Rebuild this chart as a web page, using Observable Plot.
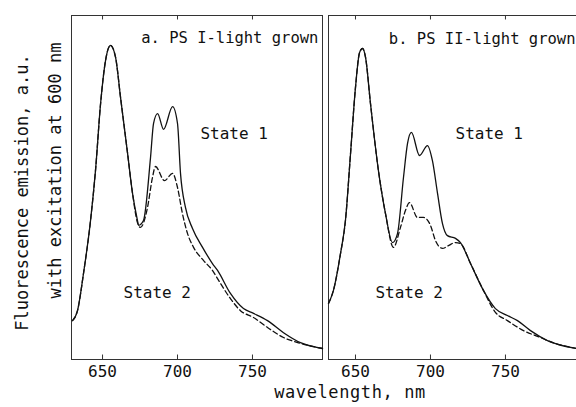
<!DOCTYPE html>
<html><head><meta charset="utf-8">
<script src="https://cdn.jsdelivr.net/npm/d3@7"></script>
<script src="https://cdn.jsdelivr.net/npm/@observablehq/plot@0.6"></script>
<style>
body{margin:0;background:#fff;}
#wrap{position:relative;width:576px;height:407px;overflow:hidden;font-family:"DejaVu Sans Mono",monospace;color:#111;}
#wrap svg{position:absolute;top:0;}
#xlab{position:absolute;top:382px;left:0;width:700px;text-align:center;font-size:17px;letter-spacing:0.6px;line-height:20px;}
</style></head><body><div id="wrap"><div id="xlab">wavelength, nm</div></div>
<script>
// Panel a: PS I-light grown
const waveA1 = [630,633.3,637.3,642,645.3,648.7,652,655.3,658.7,662,666.7,670,673.3,674,677.3,682,684,686.7,690.7,696.7,700,702,705.3,710,716.7,723.3,726.7,735.3,744,750.7,760,770.7,782,796.7];
const fluorA1 = [11.3,14.2,25,40.4,54.9,74.4,86.9,91.3,87.8,76.2,59.9,48.3,40.4,39,40.4,58.7,68.6,71.5,66.9,73.5,68.6,54.1,44.2,38.1,32.6,27.9,25.9,19.2,14.8,13.4,11.3,7.8,4.9,3.2];
const waveA2 = [630,633.3,637.3,642,645.3,648.7,652,655.3,658.7,662,666.7,670,673.3,675.3,680,683.3,685.3,691.3,696.7,700,703.3,706.7,710.7,717.3,723.3,726.7,735.3,742,750.7,760,770.7,782,796.7];
const fluorA2 = [11.3,14.2,25,40.4,54.9,74.4,86.9,91.3,87.8,76.2,59.9,48.3,39.8,38.4,44.2,52.9,56.1,52,54.1,50,42.4,36.6,32.6,28.8,25.9,23.5,17.7,14.2,12.2,9.3,6.4,4.7,3.2];
// Panel b: PS II-light grown
const waveB1 = [632,635.3,640,643.3,646.7,650,652.7,654.7,656.7,660,665.3,670,674.7,678,682,684.7,687.3,692.7,698,701.3,704.7,708,711.3,716.7,720,726.7,735.3,743.3,751.3,758,766.7,778,797.3];
const fluorB1 = [16.3,20.1,30.8,40.4,59.9,79.1,89.2,90.4,87.8,74.4,54.9,42.4,34,36.6,52.9,62.8,66,59.3,62.2,57.8,48.3,39.5,36,35.2,34,27.9,20.1,14.8,12.8,11.3,8.4,5.5,3.2];
const waveB2 = [632,635.3,640,643.3,646.7,650,652.7,654.7,656.7,660,665.3,670,675.3,680,683.3,686,691.3,695.3,700,703.3,708,712,716.7,720,726.7,735.3,743.3,751.3,762,773.3,778,797.3];
const fluorB2 = [16.3,20.1,30.8,40.4,59.9,79.1,89.2,90.4,87.8,74.4,54.9,42.4,32.6,38.4,43.3,45.6,41.3,41.3,39,34.6,32.3,33.1,34,33.7,27.9,20.1,13.7,11.3,8.4,6.4,5.5,3.2];

const tickWaves = [650, 700, 750];
const titles = ["a. PS I-light grown", "b. PS II-light grown"];
const titleWave = [794, 796.7];
const titleLevel = [91.9, 91.6];
const stateLabels = ["State 1", "State 2"];
const stateWaveA = [715.3, 664];
const stateWaveB = [716.7, 663.3];
const stateLevel = [64.2, 17.8];
const yLabelLines = ["Fluorescence emission, a.u.", "with excitation at 600 nm"];

const font = `"DejaVu Sans Mono",monospace`;
const ink = "#111";

function series(w, f) { return w.map((x, i) => ({x, y: f[i]})); }

function panel({s1, s2, domain, width, ml, mr, title, tWave, tLevel, stWaves, extra = []}) {
  return Plot.plot({
    width, height: 407,
    marginLeft: ml, marginRight: mr, marginTop: 15, marginBottom: 48,
    x: {domain, axis: null},
    y: {domain: [0, 100], axis: null},
    style: {fontFamily: font, background: "transparent", color: ink},
    marks: [
      Plot.frame({stroke: "#333", strokeWidth: 1}),
      Plot.ruleX(tickWaves, {x: d => d, y1: () => 0, y2: () => 1.3, stroke: "#333"}),
      Plot.ruleX(tickWaves, {x: d => d, y1: () => 98.7, y2: () => 100, stroke: "#333"}),
      Plot.axisX(tickWaves, {anchor: "bottom", tickSize: 0, tickPadding: 6, fontSize: 16, label: null, tickFormat: d => String(d)}),
      Plot.line(s2, {x: "x", y: "y", curve: "monotone-x", stroke: ink, strokeWidth: 1.3, strokeDasharray: "5,3"}),
      Plot.line(s1, {x: "x", y: "y", curve: "monotone-x", stroke: ink, strokeWidth: 1.3}),
      Plot.text([title], {x: () => tWave, y: () => tLevel, text: d => d, textAnchor: "end", lineAnchor: "bottom", fontSize: 15.5, fill: ink}),
      Plot.text(stateLabels, {x: (d, i) => stWaves[i], y: (d, i) => stateLevel[i], text: d => d, textAnchor: "start", lineAnchor: "bottom", fontSize: 16, fill: ink}),
      ...extra
    ]
  });
}

const pa = panel({
  s1: series(waveA1, fluorA1), s2: series(waveA2, fluorA2),
  domain: [629.3, 796.7], width: 330, ml: 71, mr: 8,
  title: titles[0], tWave: titleWave[0], tLevel: titleLevel[0], stWaves: stateWaveA,
  extra: [
    Plot.text([yLabelLines[0]], {frameAnchor: "left", textAnchor: "middle", rotate: -90, dx: -49, dy: 5, text: d => d, fontSize: 17, fill: ink}),
    Plot.text([yLabelLines[1]], {frameAnchor: "left", textAnchor: "middle", rotate: -90, dx: -16, dy: -17, text: d => d, fontSize: 17, fill: ink})
  ]
});
const pb = panel({
  s1: series(waveB1, fluorB1), s2: series(waveB2, fluorB2),
  domain: [632, 798.7], width: 256, ml: 6, mr: 0,
  title: titles[1], tWave: titleWave[1], tLevel: titleLevel[1], stWaves: stateWaveB
});
pa.style.left = "0px";
pb.style.left = "322px";
const wrap = document.getElementById("wrap");
wrap.appendChild(pa);
wrap.appendChild(pb);
</script>
</body></html>
